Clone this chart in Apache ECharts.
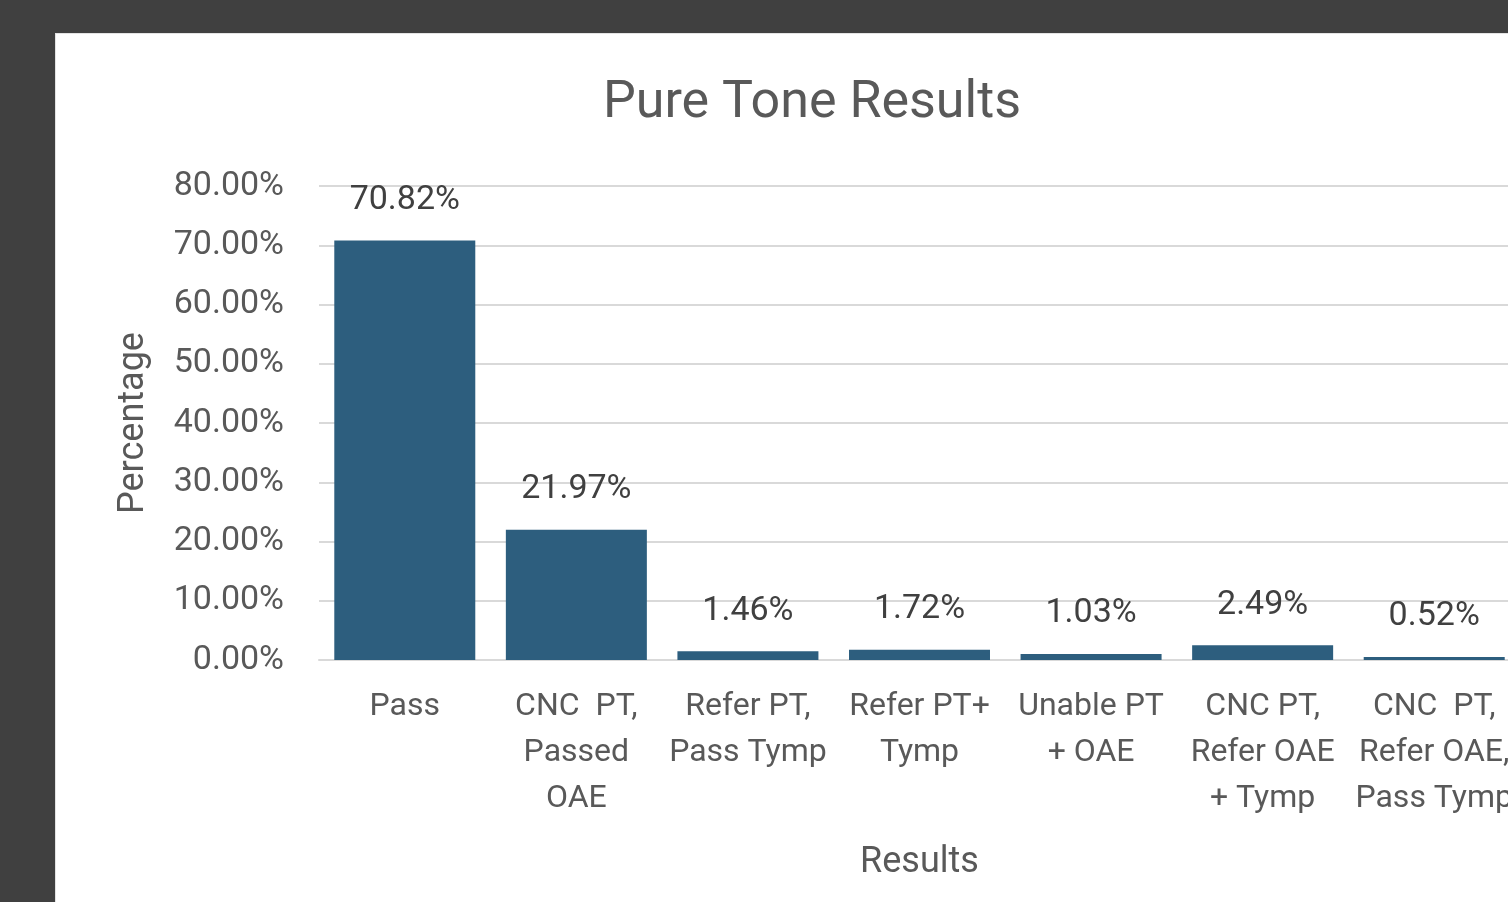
<!DOCTYPE html>
<html>
<head>
<meta charset="utf-8">
<script src="https://cdn.jsdelivr.net/npm/echarts@6/dist/echarts.min.js"></script>
<style>
html,body{margin:0;padding:0;background:#404040;width:1508px;height:902px;overflow:hidden;}
#panel{position:absolute;left:55px;top:33px;width:1453px;height:869px;background:#fff;border-top:1px solid #e3e3e3;border-left:1px solid #e3e3e3;box-sizing:border-box;}
#chart{position:absolute;left:0;top:0;width:1520px;height:902px;}
</style>
</head>
<body>
<div id="panel"></div>
<div id="chart"></div>
<script>
const categories = [
  "Pass",
  "CNC  PT,\nPassed\nOAE",
  "Refer PT,\nPass Tymp",
  "Refer PT+\nTymp",
  "Unable PT\n+ OAE",
  "CNC PT,\nRefer OAE\n+ Tymp",
  "CNC  PT,\nRefer OAE,\nPass Tymp"
];
const values = [70.82, 21.97, 1.46, 1.72, 1.03, 2.49, 0.52];
const yTicks = [0, 10, 20, 30, 40, 50, 60, 70, 80];

const txt = '#595959';
const font = 'Roboto, "Noto Sans", sans-serif';
const chart = echarts.init(document.getElementById('chart'), null, {renderer: 'canvas'});
chart.setOption({
  backgroundColor: 'transparent',
  animation: false,
  textStyle: {fontFamily: font},
  title: {
    text: 'Pure Tone Results',
    left: 807, top: 73, textAlign: 'center',
    textStyle: {fontFamily: font, fontSize: 52, fontWeight: 'normal', color: txt}
  },
  grid: {left: 319, top: 186, right: 0, bottom: 242, containLabel: false},
  xAxis: {
    type: 'category',
    data: categories,
    name: 'Results',
    nameLocation: 'middle',
    nameGap: 185,
    nameTextStyle: {fontFamily: font, fontSize: 36, color: txt, lineHeight: 36},
    axisLine: {lineStyle: {color: '#d9d9d9', width: 2}},
    axisTick: {show: false},
    axisLabel: {interval: 0, fontFamily: font, fontSize: 32, color: txt, lineHeight: 46, margin: 24, align: 'center'}
  },
  yAxis: {
    type: 'value',
    min: yTicks[0], max: yTicks[yTicks.length - 1], interval: 10,
    name: 'Percentage',
    nameLocation: 'middle',
    nameGap: 167,
    nameTextStyle: {fontFamily: font, fontSize: 36, color: txt, lineHeight: 36},
    axisLine: {show: false},
    axisTick: {show: false},
    splitLine: {lineStyle: {color: '#d9d9d9', width: 2}},
    axisLabel: {fontFamily: font, fontSize: 34, color: txt, margin: 35,
      formatter: v => v.toFixed(2) + '%'}
  },
  series: [{
    type: 'bar',
    data: values,
    barWidth: 141,
    itemStyle: {color: '#2d5e7e'},
    label: {
      show: true, position: 'top', distance: 23,
      fontFamily: font, fontSize: 34, color: '#404040',
      formatter: p => p.value.toFixed(2) + '%'
    }
  }]
});
</script>
</body>
</html>
